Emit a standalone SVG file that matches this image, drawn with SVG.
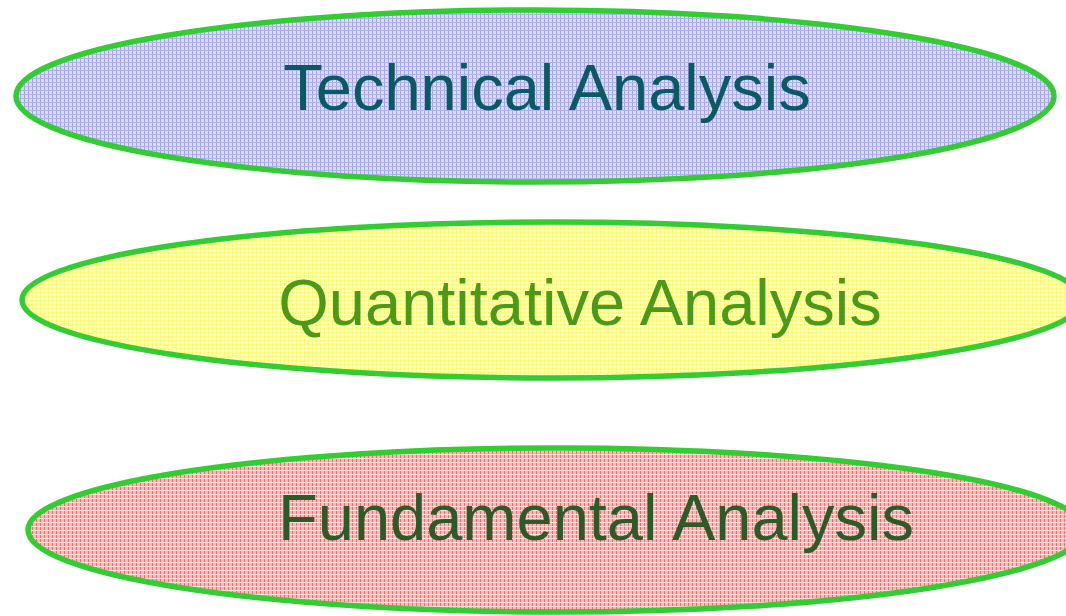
<svg xmlns="http://www.w3.org/2000/svg" width="1066" height="616" viewBox="0 0 1066 616">
<style>
.oval{stroke:#33cc33;stroke-width:5.5}
.lbl{font-family:"Liberation Sans",Arial,sans-serif;font-size:65px;text-anchor:middle}
</style>
<defs>
<pattern id="pb" width="4" height="4" patternUnits="userSpaceOnUse">
<rect width="4" height="4" fill="#dcdcfb"/>
<rect x="0" y="0" width="1" height="4" fill="#a2a2f2"/>
<rect x="0" y="2" width="4" height="1" fill="#b0b0f4"/>
</pattern>
<pattern id="py" width="4" height="4" patternUnits="userSpaceOnUse">
<rect width="4" height="4" fill="#ffff9a"/>
<rect x="0" y="0" width="1" height="4" fill="#ffff33"/>
<rect x="0" y="2" width="4" height="1" fill="#ffffcc"/>
</pattern>
<pattern id="pr" width="4" height="4" patternUnits="userSpaceOnUse">
<rect width="4" height="4" fill="#fbb8b8"/>
<rect x="0" y="0" width="1" height="4" fill="#f36a6a"/>
<rect x="0" y="2" width="4" height="1" fill="#fde0e0"/>
</pattern>
</defs>
<g id="connectors"></g>
<g id="technical">
<ellipse class="oval" cx="535" cy="96" rx="519" ry="86" fill="url(#pb)"/>
<text class="lbl" x="547" y="110" fill="#0a5a62">Technical Analysis</text>
</g>
<g id="quantitative">
<ellipse class="oval" cx="552" cy="300" rx="530" ry="78" fill="url(#py)"/>
<text class="lbl" x="580" y="325" fill="#4a9a18">Quantitative Analysis</text>
</g>
<g id="fundamental">
<ellipse class="oval" cx="556" cy="530" rx="528" ry="82" fill="url(#pr)"/>
<text class="lbl" x="596" y="540" fill="#2e5a2a">Fundamental Analysis</text>
</g>
</svg>
